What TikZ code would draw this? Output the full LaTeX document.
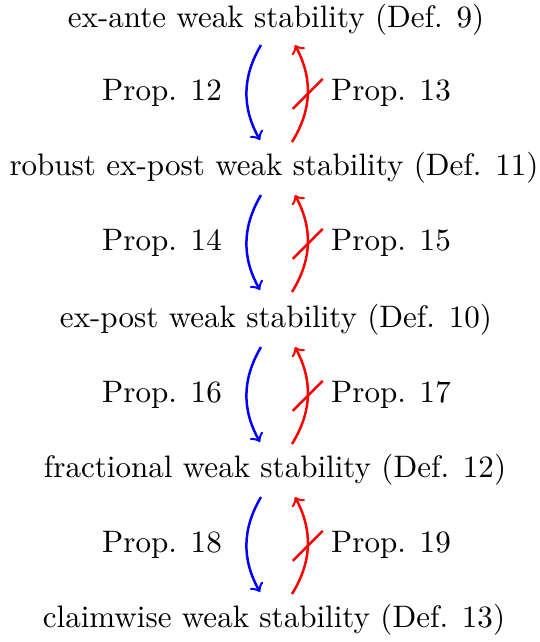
\documentclass[tikz,border=0pt]{standalone}
\begin{document}
\begin{tikzpicture}[x=0.322pt,y=-0.322pt,
  main/.style={inner sep=0pt,anchor=center},
  lab/.style={inner sep=0pt,anchor=center},
  impl/.style={->,blue,thick},
  noimpl/.style={->,red,thick},
  strike/.style={red,thick}]
\useasboundingbox (0,0) rectangle (540,642);
\node[main] (m1) at (276,20) {ex-ante weak stability (Def. 9)};
\node[main] (m2) at (274,168) {robust ex-post weak stability (Def. 11)};
\node[main] (m3) at (276,320) {ex-post weak stability (Def. 10)};
\node[main] (m4) at (275,470) {fractional weak stability (Def. 12)};
\node[main] (m5) at (274,620) {claimwise weak stability (Def. 13)};
\foreach \i/\j/\y/\pa/\pb in {1/2/93/12/13, 2/3/243/14/15, 3/4/395/16/17, 4/5/545/18/19}{
  \coordinate (t\i) at (261,\y-48);
  \coordinate (b\i) at (260,\y+47);
  \coordinate (rt\i) at (295,\y-48);
  \coordinate (rb\i) at (292,\y+49);
  \draw[impl] (t\i) to[bend right] (b\i);
  \draw[noimpl] (rb\i) to[bend right] coordinate[pos=0.5] (s\i) (rt\i);
  \draw[strike] (s\i) ++(-15,15) -- ++(30,-30);
  \node[lab] (p\i) at (162,\y) {Prop. \pa};
  \node[lab] (q\i) at (391,\y) {Prop. \pb};
}
\end{tikzpicture}
\end{document}
